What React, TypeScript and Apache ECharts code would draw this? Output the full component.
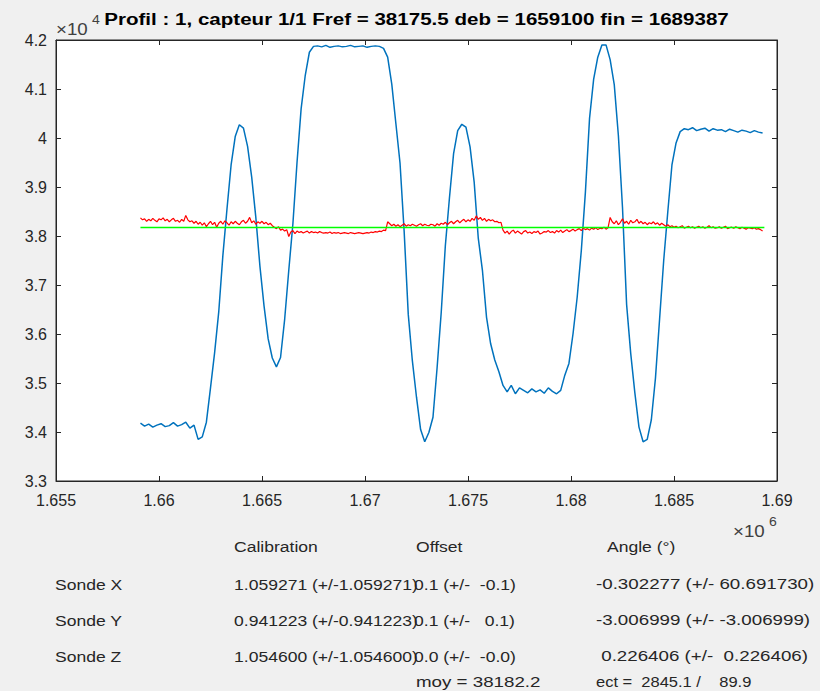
import React, { useEffect, useRef } from 'react';
import * as echarts from 'echarts';

// ---- data ----
const xStart = 1659100;
const blueStep = 200;
const redStep = 100;
const deb = 1659100;
const fin = 1689387;
const fref = 38175.5;

const blueValues = [
  34180, 34120, 34160, 34100, 34140, 34170, 34110, 34130, 34190, 34120,
  34150, 34200, 34080, 34140, 33850, 33900, 34200, 34900, 35620, 36450,
  37600, 38550, 39450, 40030, 40270, 40200, 39830, 39200, 38380, 37380,
  36570, 35900, 35510, 35330, 35520, 36300, 37300, 38250, 39500, 40600,
  41280, 41750, 41870, 41880, 41860, 41890, 41850, 41870, 41880, 41860,
  41870, 41890, 41860, 41870, 41880, 41850, 41870, 41880, 41870, 41830,
  41650, 41100, 40290, 39490, 38100, 36400, 35450, 34710, 34050, 33800,
  33990, 34300, 35310, 36440, 37800, 38780, 39680, 40150, 40280, 40220,
  39820, 39100, 37950, 37300, 36340, 35800, 35470, 35230, 34950, 34820,
  34950, 34780, 34900, 34850, 34800, 34880, 34820, 34860, 34790, 34900,
  34830, 34780, 34850, 35160, 35400, 36010, 36750, 37700, 38900, 40400,
  41200, 41650, 41900, 41900, 41600, 41090, 40050, 38580, 36600, 35600,
  34800, 34100, 33800, 33850, 34250, 35100, 36300, 37500, 38500, 39450,
  39900, 40130, 40190, 40170, 40210, 40150, 40180, 40200, 40140, 40190,
  40160, 40170, 40130, 40180, 40150, 40120, 40160, 40140, 40110, 40150,
  40120, 40100,
];

const redValues = [
  38370, 38330, 38350, 38300, 38340, 38310, 38360, 38320, 38290, 38350,
  38330, 38370, 38310, 38340, 38290, 38330, 38360, 38300, 38320, 38280,
  38340, 38300, 38420, 38330, 38290, 38310, 38260, 38300, 38240, 38280,
  38220, 38270, 38190, 38250, 38300, 38230, 38280, 38180, 38260, 38300,
  38240, 38310, 38270, 38220, 38290, 38250, 38300, 38260, 38230, 38290,
  38320, 38260, 38300, 38380, 38270, 38310, 38240, 38290, 38260, 38300,
  38250, 38280, 38230, 38260, 38210, 38180, 38150, 38190, 38120, 38140,
  38100, 38130, 37990, 38080, 38110, 38050, 38100, 38070, 38090, 38060,
  38080, 38100, 38060, 38090, 38070, 38080, 38060, 38090, 38070, 38060,
  38070, 38060, 38080, 38050, 38070, 38060, 38070, 38050, 38060, 38070,
  38060, 38050, 38070, 38060, 38050, 38060, 38070, 38060, 38050, 38060,
  38070, 38060, 38080, 38070, 38090, 38080, 38100, 38090, 38120, 38110,
  38290, 38250, 38210, 38240, 38200, 38230, 38190, 38220, 38250, 38200,
  38230, 38210, 38240, 38220, 38200, 38230, 38250, 38210, 38240, 38220,
  38210, 38240, 38230, 38200, 38250, 38220, 38260, 38240, 38280, 38230,
  38270, 38300, 38250, 38290, 38320, 38270, 38310, 38340, 38290, 38330,
  38300, 38360, 38320, 38410, 38340, 38380, 38320, 38360, 38300, 38340,
  38310, 38330, 38290, 38300, 38270, 38280, 38120, 38060, 38100, 38040,
  38090, 38120, 38060, 38100, 38070, 38040, 38090, 38110, 38060, 38080,
  38050, 38090, 38070, 38100, 38040, 38060, 38090, 38080, 38110, 38070,
  38090, 38060, 38110, 38080, 38120, 38070, 38100, 38130, 38090, 38110,
  38140, 38100, 38130, 38150, 38110, 38160, 38130, 38150, 38120, 38160,
  38140, 38170, 38130, 38160, 38150, 38180, 38140, 38170, 38380, 38290,
  38250, 38310, 38230, 38280, 38350, 38260, 38300, 38240, 38320, 38270,
  38290, 38340, 38260, 38300, 38250, 38280, 38230, 38270, 38250, 38290,
  38240, 38270, 38220, 38260, 38230, 38200, 38230, 38190, 38210, 38180,
  38200, 38170, 38190, 38210, 38160, 38180, 38200, 38170, 38190, 38160,
  38180, 38200, 38170, 38190, 38160, 38180, 38210, 38170, 38190, 38160,
  38170, 38190, 38160, 38180, 38200, 38150, 38170, 38180, 38160, 38190,
  38170, 38150, 38180, 38160, 38140, 38170, 38160, 38150, 38170, 38140,
  38150, 38130, 38100,
];

const xMin = 1655000;
const xMax = 1690000;
const xInterval = 5000;
const yMin = 33000;
const yMax = 42000;
const yInterval = 1000;

const titleText = 'Profil : 1, capteur 1/1 Fref = 38175.5 deb = 1659100 fin = 1689387';
const headers = ['Calibration', 'Offset', 'Angle (°)'];
const rowLabels = ['Sonde X', 'Sonde Y', 'Sonde Z'];
const calibrationCol = ['1.059271 (+/-1.059271)', '0.941223 (+/-0.941223)', '1.054600 (+/-1.054600)'];
const offsetCol = ['0.1 (+/-  -0.1)', '0.1 (+/-   0.1)', '0.0 (+/-  -0.0)'];
const angleCol = ['-0.302277 (+/- 60.691730)', '-3.006999 (+/- -3.006999)', ' 0.226406 (+/-  0.226406)'];
const summaryTexts = ['moy = 38182.2', 'ect =  2845.1 /    89.9'];

// ---- layout ----
const FONT = '"Liberation Sans", Arial, Helvetica, sans-serif';
const AX = '#262626';
const GRID = { left: 56, top: 40, width: 721, height: 441 };
const SX = 1.17;
const headerX = [234, 416, 607];
const rowY = [584, 620, 656];
const headerY = 546;
const summaryY = 682;

function txt(text: string, x: number, y: number, opts: any = {}) {
  return {
    type: 'text',
    x,
    y,
    scaleX: opts.scaleX ?? SX,
    silent: true,
    style: {
      text,
      fill: opts.fill ?? AX,
      font: `${opts.weight ?? 'normal'} ${opts.size ?? 15}px ${FONT}`,
      textAlign: opts.align ?? 'left',
      textVerticalAlign: 'middle',
    },
  };
}

function buildOption() {
  const blue = blueValues.map((v, i) => [xStart + i * blueStep, v]);
  const red = redValues.map((v, i) => [xStart + i * redStep, v]);
  const green = [[deb, fref], [fin, fref]];

  const axisCommon = {
    type: 'value',
    splitLine: { show: false },
    axisLine: { show: true, onZero: false, lineStyle: { color: AX, width: 1 } },
    axisTick: { show: true, inside: true, length: 5, lineStyle: { color: AX, width: 1 } },
  };
  const labelStyle = { color: AX, fontFamily: FONT, fontSize: 16 };

  const graphics: any[] = [];
  graphics.push(txt(titleText, 416.5, 19, { weight: 'bold', size: 17, fill: '#000', align: 'center', scaleX: 1.21 }));
  graphics.push(txt('×10', 56, 29, { size: 16, fill: '#404040' }));
  graphics.push(txt('4', 92, 20, { size: 12, fill: '#404040' }));
  graphics.push(txt('×10', 733, 531, { size: 16, fill: '#404040' }));
  graphics.push(txt('6', 769, 522, { size: 12, fill: '#404040' }));
  headers.forEach((h, i) => graphics.push(txt(h, headerX[i], headerY)));
  rowLabels.forEach((r, i) => {
    graphics.push(txt(r, 55, rowY[i]));
    graphics.push(txt(calibrationCol[i], 234, rowY[i]));
    graphics.push(txt(offsetCol[i], 414, rowY[i]));
    graphics.push(txt(angleCol[i], 596, rowY[i], { scaleX: 1.25 }));
  });
  graphics.push(txt(summaryTexts[0], 416, summaryY, { scaleX: 1.25 }));
  graphics.push(txt(summaryTexts[1], 596, summaryY, { scaleX: 1.1 }));

  return {
    animation: false,
    backgroundColor: '#f0f0f0',
    grid: { ...GRID, show: true, backgroundColor: '#ffffff', borderColor: AX, borderWidth: 1, containLabel: false },
    xAxis: [
      {
        ...axisCommon,
        position: 'bottom',
        min: xMin,
        max: xMax,
        interval: xInterval,
        axisLabel: {
          ...labelStyle,
          margin: 11,
          formatter: (v: number) => String(parseFloat((v / 1e6).toFixed(4))),
        },
      },
      {
        ...axisCommon,
        position: 'top',
        min: xMin,
        max: xMax,
        interval: xInterval,
        axisLabel: { show: false },
      },
    ],
    yAxis: [
      {
        ...axisCommon,
        position: 'left',
        min: yMin,
        max: yMax,
        interval: yInterval,
        axisLabel: {
          ...labelStyle,
          margin: 9,
          formatter: (v: number) => String(parseFloat((v / 1e4).toFixed(2))),
        },
      },
      {
        ...axisCommon,
        position: 'right',
        min: yMin,
        max: yMax,
        interval: yInterval,
        axisLabel: { show: false },
      },
    ],
    series: [
      {
        type: 'line',
        data: blue,
        xAxisIndex: 0,
        yAxisIndex: 0,
        symbol: 'none',
        lineStyle: { color: '#0072BD', width: 1.5 },
        silent: true,
      },
      {
        type: 'line',
        data: red,
        xAxisIndex: 0,
        yAxisIndex: 0,
        symbol: 'none',
        lineStyle: { color: '#FF0000', width: 1.2 },
        silent: true,
      },
      {
        type: 'line',
        data: green,
        xAxisIndex: 0,
        yAxisIndex: 0,
        symbol: 'none',
        lineStyle: { color: '#00FF00', width: 1.5 },
        silent: true,
      },
    ],
    graphic: { elements: graphics },
  };
}

export default function App() {
  const ref = useRef<HTMLDivElement>(null);
  useEffect(() => {
    if (!ref.current) return;
    const chart = echarts.init(ref.current, undefined, { renderer: 'svg' });
    chart.setOption(buildOption() as any);
    return () => chart.dispose();
  }, []);
  return (
    <div
      ref={ref}
      style={{ position: 'absolute', left: 0, top: 0, width: 820, height: 691, background: '#f0f0f0' }}
    />
  );
}
